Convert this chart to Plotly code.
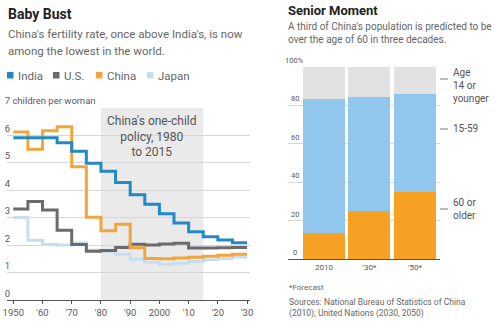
import plotly.graph_objects as go

W, H = 500, 323
def px(x): return x / W
def py(y): return 1 - y / H

FONT = "Roboto"
GRAY_TXT = "#5a5a5a"

# ---------------- data: fertility (children per woman), 5-year periods
period_start = [1950, 1955, 1960, 1965, 1970, 1975, 1980, 1985,
                1990, 1995, 2000, 2005, 2010, 2015, 2020, 2025]
period_end = 2030
india = [5.90, 5.90, 5.90, 5.72, 5.41, 4.97, 4.68, 4.27, 3.83, 3.48, 3.14, 2.80, 2.48, 2.30, 2.18, 2.08]
us    = [3.31, 3.58, 3.27, 2.54, 2.02, 1.77, 1.80, 1.91, 2.03, 2.00, 2.04, 2.06, 1.89, 1.89, 1.90, 1.91]
china = [6.11, 5.48, 6.15, 6.30, 4.85, 3.01, 2.52, 2.75, 1.90, 1.51, 1.50, 1.53, 1.55, 1.59, 1.63, 1.66]
japan = [3.00, 2.17, 2.02, 2.00, 2.07, 1.81, 1.76, 1.66, 1.48, 1.37, 1.30, 1.34, 1.40, 1.46, 1.51, 1.56]

x_tickvals = [1950, 1960, 1970, 1980, 1990, 2000, 2010, 2020, 2030]
x_ticktext = ["1950", "'60", "'70", "'80", "'90", "2000", "'10", "'20", "'30"]
y_tickvals = [0, 1, 2, 3, 4, 5, 6, 7]
y_ticktext = ["0", "1", "2", "3", "4", "5", "6", "7 children per woman"]
policy_start, policy_end = 1980, 2015

series_names = ["India", "U.S.", "China", "Japan"]
series_vals = [india, us, china, japan]
series_colors = ["#2389c4", "#6b6b6b", "#f2a53a", "#c8deef"]

# ---------------- data: China population by age (%)
bar_cats = ["2010", "'30*", "'50*"]
age_60plus = [13.4, 25.0, 35.1]
age_15_59 = [69.8, 59.5, 50.8]
age_0_14 = [16.8, 15.5, 14.1]
bar_colors = {"60+": "#f6a024", "15-59": "#91c7ed", "0-14": "#e2e2e2"}
bar_y_ticks = [0, 20, 40, 60, 80, 100]

fig = go.Figure()

# draw order: Japan, U.S., China, India (India on top)
for idx in [3, 1, 2, 0]:
    xs = period_start + [period_end]
    ys = series_vals[idx] + [series_vals[idx][-1]]
    fig.add_trace(go.Scatter(x=xs, y=ys, mode="lines", line_shape="hv",
                             line=dict(color=series_colors[idx], width=3),
                             name=series_names[idx], showlegend=False,
                             xaxis="x", yaxis="y"))

xb = list(range(len(bar_cats)))
for vals, key in [(age_60plus, "60+"), (age_15_59, "15-59"), (age_0_14, "0-14")]:
    fig.add_trace(go.Bar(x=xb, y=vals, marker=dict(color=bar_colors[key], line_width=0),
                         showlegend=False, xaxis="x2", yaxis="y2", name=key))

layout = dict(
    width=W, height=H, autosize=False,
    margin=dict(l=0, r=0, t=0, b=0, pad=0),
    paper_bgcolor="white", plot_bgcolor="rgba(0,0,0,0)",
    font=dict(family=FONT, color=GRAY_TXT),
    barmode="stack", bargap=0.077,
    xaxis=dict(domain=[px(6.7), px(250)], range=[1947.75, 2031],
               tickvals=x_tickvals, ticktext=x_ticktext,
               ticks="outside", ticklen=3, tickcolor="#555", tickwidth=1,
               showline=True, linecolor="#555", linewidth=1.2,
               showgrid=False, zeroline=False, ticklabeloverflow="allow",
               automargin=False,
               tickfont=dict(size=9.5, color=GRAY_TXT), anchor="y", fixedrange=True),
    yaxis=dict(domain=[py(300), py(107.5)], range=[0, 7],
               tickvals=y_tickvals, ticktext=y_ticktext,
               ticklabelposition="inside top", ticks="", ticklabelstandoff=-5,
               ticklabeloverflow="allow", automargin=False,
               showgrid=True, gridcolor="#d6d6d6", gridwidth=1,
               zeroline=False, showline=False,
               tickfont=dict(size=9.5, color=GRAY_TXT), anchor="x", fixedrange=True),
    xaxis2=dict(domain=[px(288), px(440)], range=[-0.79, 2.55],
                tickvals=xb, ticktext=bar_cats, ticks="",
                showline=True, linecolor="#555", linewidth=1.2,
                showgrid=False, zeroline=False, automargin=False,
                tickfont=dict(size=8, color=GRAY_TXT), anchor="y2", fixedrange=True),
    yaxis2=dict(domain=[py(259), py(67)], range=[0, 100],
                tickvals=bar_y_ticks, showticklabels=False, ticks="",
                showgrid=True, gridcolor="#d6d6d6", gridwidth=1,
                zeroline=False, anchor="x2", automargin=False, fixedrange=True),
)
fig.update_layout(**layout)

shapes = []
# one-child policy shading
shapes.append(dict(type="rect", xref="x", yref="y", x0=policy_start, x1=policy_end,
                   y0=0, y1=7, fillcolor="#eaeaea", line=dict(width=0), layer="below"))

annotations = []
def txt(text, x, y, size, color=GRAY_TXT, xanchor="left", yanchor="middle", align="left", **kw):
    annotations.append(dict(text=text, x=px(x), y=py(y), xref="paper", yref="paper",
                            showarrow=False, xanchor=xanchor, yanchor=yanchor, align=align,
                            font=dict(size=size, color=color, family=FONT), **kw))

# left titles
txt("<b>Baby Bust</b>", 6, 14, 14, color="#222")
txt("China's fertility rate, once above India's, is now", 6, 34, 11.5, color="#666")
txt("among the lowest in the world.", 6, 51, 11.5, color="#666")

# legend
leg_sq_x = [7, 53, 96, 147]
for name, col, sx in zip(series_names, series_colors, leg_sq_x):
    shapes.append(dict(type="rect", xref="paper", yref="paper",
                       x0=px(sx), x1=px(sx + 6.5), y0=py(78.5), y1=py(72),
                       fillcolor=col, line=dict(width=0)))
    txt(name, sx + 9, 75.5, 11.5, color="#666")

# policy label
txt("China's one-child<br>policy, 1980<br>to 2015", 152, 136, 12, color="#555",
    xanchor="center", align="center")

# right titles
txt("<b>Senior Moment</b>", 286, 10, 13, color="#222")
txt("A third of China's population is predicted to be", 286, 26.5, 10, color="#666")
txt("over the age of 60 in three decades.", 286, 39.5, 10, color="#666")

# right y tick labels
for v in bar_y_ticks:
    annotations.append(dict(text=("100%" if v == 100 else str(v)), x=px(294.5), y=v,
                            xref="paper", yref="y2", showarrow=False,
                            xanchor="center", yanchor="bottom", yshift=0,
                            font=dict(size=7.5, color=GRAY_TXT, family=FONT)))

# age labels with leaders
age_labels = [("Age<br>14 or<br>younger", 79, 86), ("15-59", 129, 129), ("60 or<br>older", 209, 209)]
for text, ly, ty in age_labels:
    shapes.append(dict(type="line", xref="paper", yref="paper",
                       x0=px(440), x1=px(448), y0=py(ly), y1=py(ly),
                       line=dict(color="#777", width=1)))
    txt(text, 451, ty, 10, color="#555")

# footnotes
txt("*Forecast", 287, 287, 8, color="#666")
txt("Sources: National Bureau of Statistics of China<br>(2010); United Nations (2030, 2050)",
    287, 307.5, 8.5, color="#666")

fig.update_layout(shapes=shapes, annotations=annotations)
fig.write_html("out.html")
